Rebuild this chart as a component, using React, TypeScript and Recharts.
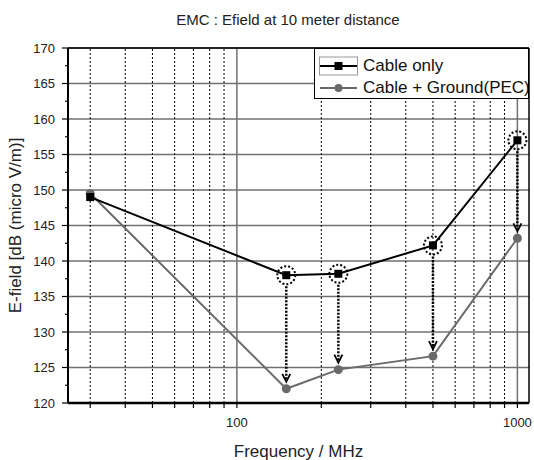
import {
  LineChart,
  Line,
  XAxis,
  YAxis,
  ReferenceLine,
  Legend,
} from 'recharts';

const freqs = [30, 150, 230, 500, 1000];
const cableOnly = [149, 138, 138.2, 142.2, 157];
const cableGround = [149.5, 122, 124.7, 126.6, 143.2];
// points that carry the dotted circle + arrow
const markedIdx = [1, 2, 3, 4];

const xTicks = [30, 40, 50, 60, 70, 80, 90, 100, 200, 300, 400, 500, 600, 700, 800, 900, 1000];
const xLabelTicks = [100, 1000];
const xMinorGrid = [30, 40, 50, 60, 70, 80, 90, 200, 300, 400, 500, 600, 700, 800, 900];
const yTicks = [120, 122.5, 125, 127.5, 130, 132.5, 135, 137.5, 140, 142.5, 145, 147.5, 150, 152.5, 155, 157.5, 160, 162.5, 165, 167.5, 170];
const yMajor = [120, 125, 130, 135, 140, 145, 150, 155, 160, 165, 170];

const FONT = '"Liberation Sans", Arial, sans-serif';
const GREY = '#6a6a6a';

const data = freqs.map((f, i) => ({ f, cable: cableOnly[i], ground: cableGround[i] }));

function YTick(props: any) {
  const { x, y, payload } = props;
  const major = yMajor.includes(payload.value);
  return (
    <g>
      <line x1={x + (major ? 7 : 10)} x2={x + 13} y1={y} y2={y} stroke="#000" strokeWidth={1.2} />
      {major && (
        <text x={x} y={y} dy={4.5} textAnchor="end" fontSize={13} fontFamily={FONT} fill="#222">
          {payload.value}
        </text>
      )}
    </g>
  );
}

function CableDot(props: any) {
  const { cx, cy, index } = props;
  return (
    <g key={`cd-${index}`}>
      <rect x={cx - 4} y={cy - 4} width={8} height={8} fill="#000" />
      {markedIdx.includes(index) && (
        <circle cx={cx} cy={cy} r={9} fill="none" stroke="#000" strokeWidth={2} strokeDasharray="2 2" />
      )}
    </g>
  );
}

function Arrow(props: any) {
  const { x1, y1, x2, y2 } = props;
  const top = Math.min(y1, y2) + 11;
  const tip = Math.max(y1, y2) - 7;
  return (
    <g>
      <line x1={x1} x2={x2} y1={top} y2={tip - 1} stroke="#000" strokeWidth={2.5} strokeDasharray="2 1.5" />
      <polyline
        points={`${x1 - 4},${tip - 8} ${x1},${tip} ${x1 + 4},${tip - 8}`}
        fill="none"
        stroke="#000"
        strokeWidth={1.8}
      />
    </g>
  );
}

function LegendBox() {
  const row = (label: string, color: string, square: boolean, boxed: boolean) => (
    <div style={{ display: 'flex', alignItems: 'center', height: 22, whiteSpace: 'nowrap' }}>
      <svg width={40} height={20} style={{ marginRight: 4, flex: 'none' }}>
        {boxed && <rect x={0.5} y={1} width={38} height={18} fill="none" stroke="#999" strokeWidth={1} />}
        <line x1={1} x2={38} y1={10} y2={10} stroke={color} strokeWidth={2} />
        {square ? (
          <rect x={15.5} y={6} width={8} height={8} fill={color} />
        ) : (
          <circle cx={19.5} cy={10} r={4} fill={color} />
        )}
      </svg>
      <span>{label}</span>
    </div>
  );
  return (
    <div
      style={{
        width: 215,
        height: 51,
        boxSizing: 'border-box',
        border: '1.5px solid #000',
        background: '#fff',
        padding: '6px 0 0 4px',
        fontFamily: FONT,
        fontSize: 17,
        color: '#111',
        lineHeight: '20px',
        overflow: 'hidden',
      }}
    >
      {row('Cable only', '#000', true, true)}
      {row('Cable + Ground(PEC)', GREY, false, false)}
    </div>
  );
}

export default function App() {
  return (
    <div style={{ position: 'absolute', left: 0, top: 0, width: 534, height: 460, background: '#fff' }}>
      <div
        style={{
          position: 'absolute',
          left: 0,
          top: 11,
          width: 576,
          textAlign: 'center',
          fontFamily: FONT,
          fontSize: 15,
          color: '#222',
        }}
      >
        EMC : Efield at 10 meter distance
      </div>
      <LineChart width={534} height={460} data={data} margin={{ top: 48, right: 5, bottom: 0, left: 0 }}>
        {yMajor.map((v) => (
          <ReferenceLine key={`hy-${v}`} y={v} stroke="#707070" strokeWidth={1.5} />
        ))}
        {xMinorGrid.map((v) => (
          <ReferenceLine key={`mx-${v}`} x={v} stroke="#000" strokeWidth={1} strokeDasharray="2 2" />
        ))}
        {xLabelTicks.map((v) => (
          <ReferenceLine key={`Mx-${v}`} x={v} stroke="#707070" strokeWidth={1.5} />
        ))}
        <XAxis
          dataKey="f"
          type="number"
          scale="log"
          domain={[25, 1100]}
          ticks={xTicks}
          interval={0}
          height={57}
          allowDataOverflow
          stroke="#000"
          axisLine={{ stroke: '#000', strokeWidth: 2.5 }}
          tickLine={{ stroke: '#000', strokeWidth: 1.2 }}
          tickSize={5}
          tickMargin={10}
          tickFormatter={(v: number) => (xLabelTicks.includes(v) ? String(v) : '')}
          tick={{ fontSize: 13, fontFamily: FONT, fill: '#222' }}
          label={{
            value: 'Frequency / MHz',
            position: 'insideBottom',
            offset: 3,
            style: { fontSize: 17, fontFamily: FONT, fill: '#222' },
          }}
        />
        <YAxis
          type="number"
          domain={[120, 170]}
          ticks={yTicks}
          interval={0}
          width={68}
          allowDataOverflow
          axisLine={{ stroke: '#000', strokeWidth: 2 }}
          tickLine={false}
          tickSize={6}
          tickMargin={7}
          tick={<YTick />}
          label={{
            value: 'E-field [dB (micro V/m)]',
            angle: -90,
            position: 'insideLeft',
            offset: 15,
            style: { fontSize: 17, fontFamily: FONT, fill: '#222', textAnchor: 'middle' },
          }}
        />
        <ReferenceLine y={170} stroke="#000" strokeWidth={1.5} />
        <ReferenceLine x={1100} stroke="#000" strokeWidth={1.5} />
        {markedIdx.map((i) => (
          <ReferenceLine
            key={`arrow-${i}`}
            segment={[
              { x: freqs[i], y: cableOnly[i] },
              { x: freqs[i], y: cableGround[i] },
            ]}
            shape={(p: any) => <Arrow {...p} />}
          />
        ))}
        <Line
          dataKey="ground"
          stroke={GREY}
          strokeWidth={2}
          dot={{ r: 4.5, fill: GREY, stroke: GREY, strokeWidth: 0 }}
          isAnimationActive={false}
        />
        <Line
          dataKey="cable"
          stroke="#000"
          strokeWidth={2}
          dot={(p: any) => <CableDot {...p} key={`cd-${p.index}`} />}
          isAnimationActive={false}
        />
        <Legend
          layout="vertical"
          align="center"
          verticalAlign="middle"
          wrapperStyle={{ left: 314, top: 48, width: 215, height: 51 }}
          content={() => <LegendBox />}
        />
      </LineChart>
    </div>
  );
}
